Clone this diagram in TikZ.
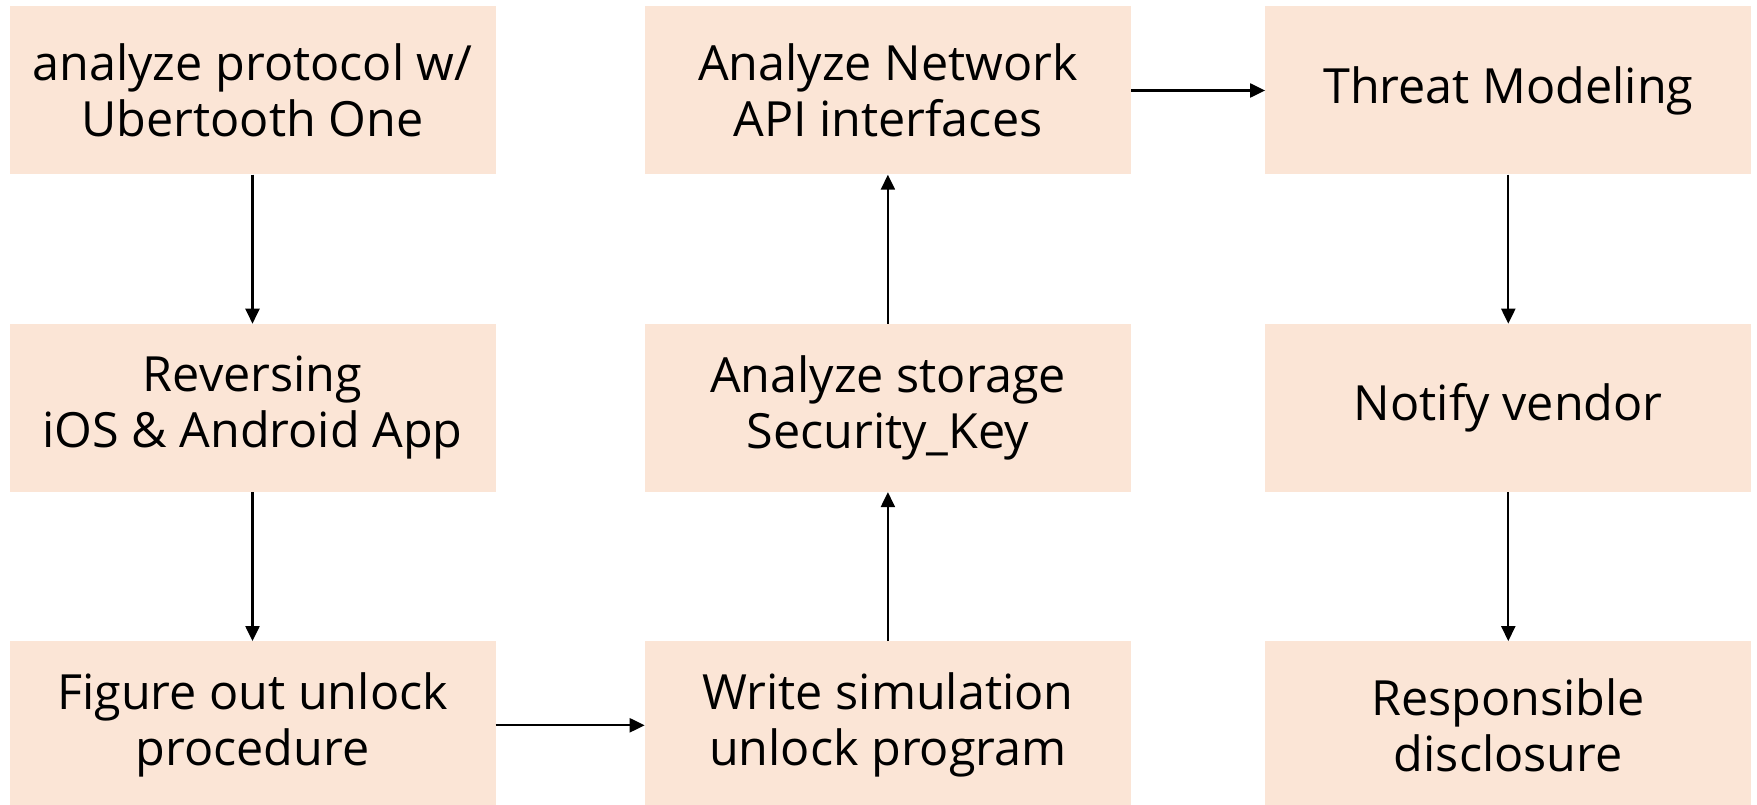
\documentclass[tikz,border=0pt]{standalone}
\usepackage{fontspec}
\setmainfont{Open Sans}
\usetikzlibrary{arrows.meta, positioning}
\definecolor{colour_box}{HTML}{FBE5D6}

\begin{document}
\begin{tikzpicture}
   [
      stage/.style={rectangle, fill=colour_box, inner sep=0pt, minimum width=486pt, minimum height=168pt, align=center, font=\fontsize{48.5}{56}\selectfont},
      flow/.style={line width=2.2pt, -{Triangle[width=14pt, length=15pt]}},
      node distance=149pt and 149pt % Vertical and Horizontal spacing
   ]

   % fixed frame of the picture
   \useasboundingbox (0pt,0pt) rectangle (1757pt,-805pt);

   % =======================================================
   % Left column: protocol and app
   % =======================================================

   \node[stage] (proto) at (252.5pt,-90.5pt) {analyze protocol w/\\Ubertooth One};
   \node[stage, below=of proto] (reverse) {Reversing\\iOS \& Android App};
   \node[stage, below=of reverse] (unlock) {Figure out unlock\\procedure};

   % =======================================================
   % Middle column: simulation, storage and API
   % =======================================================

   \node[stage, right=of unlock] (simul) {Write simulation\\unlock program};
   \node[stage, right=of reverse] (storage) {Analyze storage\\Security\_Key};
   \node[stage, right=of proto] (network) {Analyze Network\\API interfaces};

   % =======================================================
   % Right column: modeling and disclosure
   % =======================================================

   \node[stage, right=134pt of network] (threat) {Threat Modeling};
   \node[stage, below=of threat] (vendor) {Notify vendor};
   \node[stage, below=of vendor] (disclose) {Responsible\\disclosure};

   % =======================================================
   % Arrows
   % =======================================================

   \draw[flow] (proto) -- (reverse);
   \draw[flow] (reverse) -- (unlock);
   \draw[flow] (unlock) -- (simul);
   \draw[flow] (simul) -- (storage);
   \draw[flow] (storage) -- (network);
   \draw[flow] (network) -- (threat);
   \draw[flow] (threat) -- (vendor);
   \draw[flow] (vendor) -- (disclose);

\end{tikzpicture}
\end{document}
